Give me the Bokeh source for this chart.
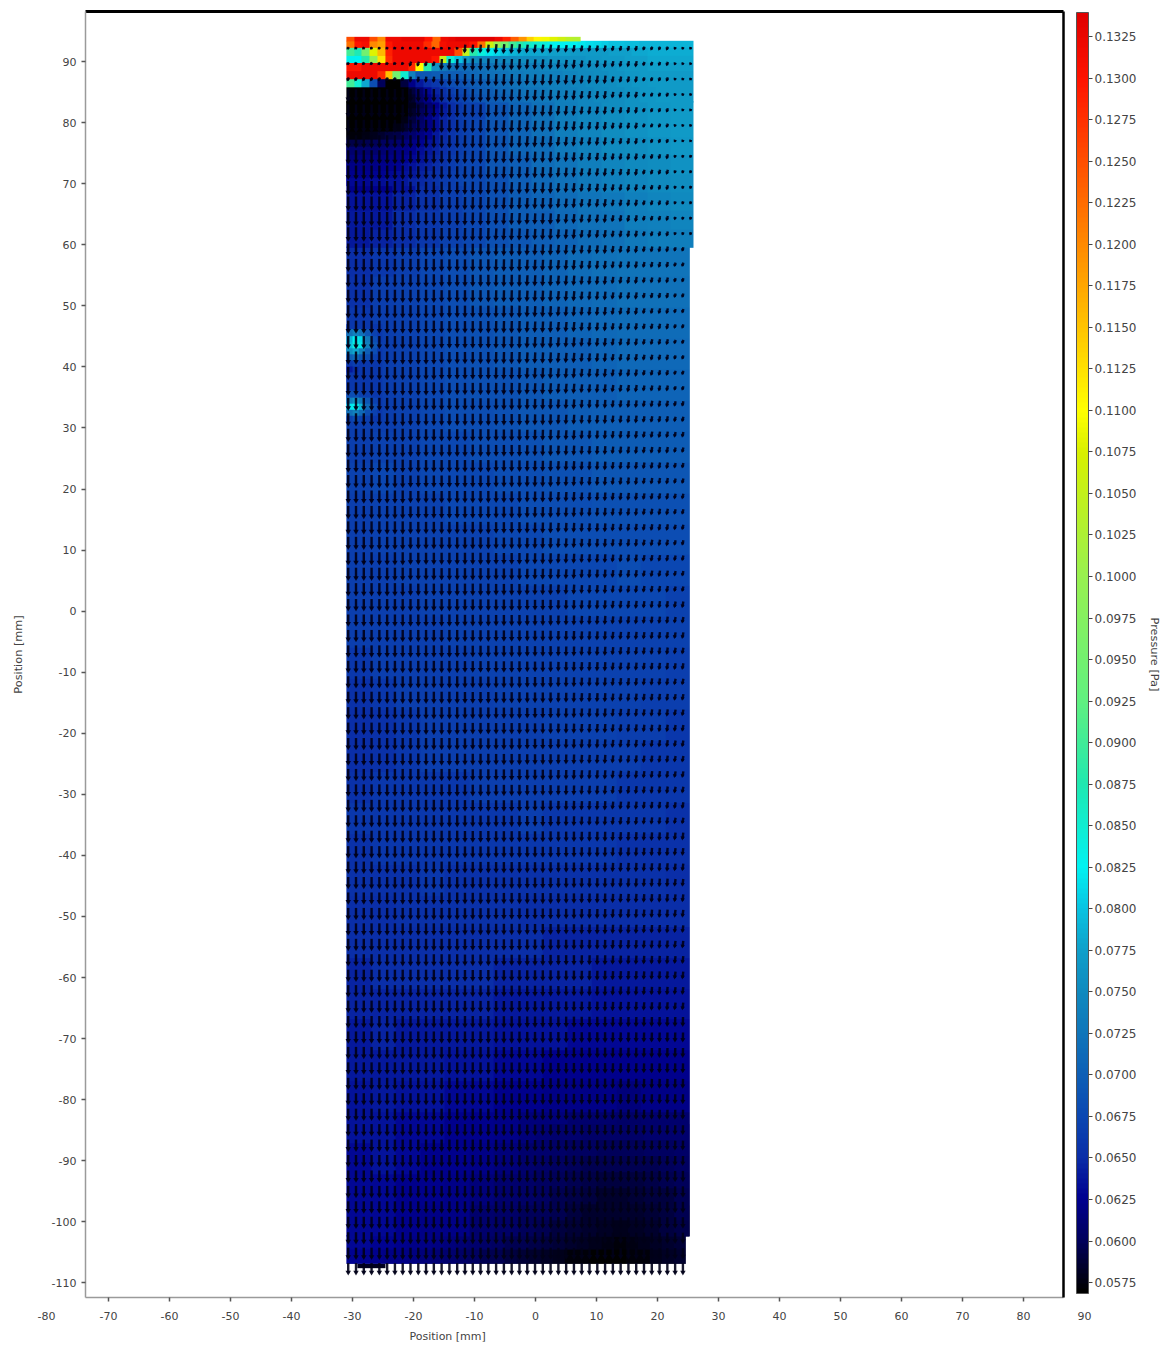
import numpy as np
from bokeh.plotting import figure
from bokeh.models import (Range1d, FixedTicker, LinearColorMapper, ColorBar, LinearAxis, NumeralTickFormatter)
from bokeh.embed import file_html
from bokeh.resources import INLINE

# ---------- axes ----------
x_ticks = list(range(-70, 90, 10))
y_ticks = list(range(-110, 100, 10))
cbar_ticks = [round(0.0575 + 0.0025 * i, 4) for i in range(31)]
pressure_min, pressure_max = 0.05684, 0.13395

# ---------- colour map stops (value, colour) ----------
stop_values = [0.05684, 0.0600, 0.0625, 0.0650, 0.0675, 0.0700, 0.0725, 0.0750, 0.0775, 0.0800, 0.0825,
               0.0875, 0.0925, 0.1000, 0.1075, 0.1100, 0.1150, 0.1200, 0.1250, 0.1300, 0.13395]
stop_colors = ["#000000", "#00005e", "#000090", "#0a2ea8", "#0b48b2", "#0e60b6", "#1076ba", "#108abf", "#10a0ca",
               "#08c4e2", "#00f2f2", "#20e8b0", "#60f080", "#98f050", "#d8f000", "#ffff00", "#ffc400", "#ff8a00",
               "#ff5000", "#ff1400", "#e00000"]

# ---------- pressure, in 0.0001 Pa ----------
strip_pressure = [1250,1320,1320,1250,1200,1320,1320,1330,1330,1330,1300,1230,1320,1330,1340,1340,1340,1340,1340,
                  1320,1290,1240,1190,1140,1110,1090,1080,1060,1040,1030]

top_pressure = [
 [1220,1300,1310,1200,1180,1300,1320,1320,1320,1320,1280,1230,1310,1320,1320,1320,1300,1220,1060,1000,950,900,880,860,850,840,830,825,825,825,820,815,810,805,800,800,795,795,790,790,790,790,790,790,790],
 [900,870,950,1080,1160,1290,1320,1320,1320,1320,1320,1320,1320,1320,1250,1050,880,840,820,810,800,790,785,780,780,780,775,775,775,770,770,770,770,770,775,775,775,780,780,785,785,785,785,785,785],
 [830,825,880,990,1120,1280,1320,1320,1320,1320,1320,1300,1050,850,800,770,750,745,745,745,750,750,755,755,755,755,760,760,760,760,760,765,765,770,770,770,775,775,775,780,780,780,780,780,780],
 [1300,1300,1320,1320,1320,1320,1320,1320,1280,1100,880,760,730,720,715,715,715,720,725,730,730,735,735,740,740,745,745,745,750,750,750,755,755,760,760,765,770,770,770,775,775,775,775,775,775],
 [1320,1320,1320,1320,1280,1150,950,850,740,690,690,695,700,700,700,705,710,715,720,720,725,730,730,735,735,740,740,740,745,745,750,750,755,755,760,760,765,765,770,770,770,770,770,770,770],
 [900,850,780,680,600,570,570,590,620,640,650,660,670,680,685,690,695,700,705,710,715,720,725,730,730,735,735,740,740,745,745,750,750,755,755,760,760,765,765,770,770,770,770,770,770],
 [570,570,570,570,570,570,570,570,590,610,630,645,655,665,675,680,690,695,700,705,710,715,720,725,725,730,735,735,740,740,745,745,750,750,755,755,760,760,765,765,770,770,770,770,770],
 [570,570,570,570,570,570,570,570,585,605,625,640,650,660,670,675,685,690,695,700,705,710,715,720,725,730,730,735,740,740,745,745,750,750,755,755,760,760,765,765,770,770,770,770,770],
]

mid_pressure = [
 [570,570,575,620,650,670,690,705,720,735,745,755,760,765,770],
 [570,570,590,630,655,675,690,705,720,735,745,755,760,765,770],
 [600,600,615,640,660,675,690,705,715,730,740,750,755,760,765],
 [615,615,630,645,660,675,690,700,715,725,735,745,750,755,760],
 [625,625,635,650,665,675,685,700,710,720,730,740,745,750,755],
 [635,635,645,655,665,675,685,695,705,715,725,730,740,745,750],
 [640,640,650,660,665,675,685,695,700,710,720,725,735,740,745],
 [640,645,650,660,670,675,685,690,700,705,715,720,730,735,735],
]

mid_left_pressure = [
 [570,570,570,570,570,570,570,570,580,595,610,625,640,650,660,668],
 [570,570,570,570,570,570,570,570,585,600,615,630,642,652,662,670],
 [570,570,570,570,570,570,570,575,590,605,620,632,644,654,663,670],
 [570,570,570,570,570,570,575,585,598,610,622,634,645,655,663,670],
 [572,572,575,580,585,590,595,603,610,618,628,638,648,656,664,670],
 [595,595,597,600,603,606,610,615,620,627,635,642,650,658,665,672],
 [608,608,608,610,612,614,617,620,625,632,638,645,652,660,667,673],
 [615,615,615,617,618,620,622,626,630,636,642,648,655,662,668,674],
 [620,620,620,622,623,625,628,632,636,641,646,652,658,664,670,675],
 [625,625,625,627,628,630,633,636,640,645,650,655,660,666,671,676],
 [630,630,630,632,633,635,637,640,644,648,652,657,662,667,672,677],
]

main_pressure = [
 [650,660,665,675,680,690,695,700,705,715,720,725,725,725],
 [655,665,670,675,680,690,695,700,705,710,715,720,720,720],
 [660,665,670,675,680,685,690,695,700,705,710,715,715,715],
 [660,665,670,675,680,685,690,695,700,700,705,710,710,710],
 [660,665,670,675,680,685,685,690,695,700,700,705,705,705],
 [665,665,670,675,680,680,685,690,690,695,700,700,700,700],
 [665,670,670,675,675,680,680,685,690,690,695,695,695,695],
 [670,675,670,675,675,675,680,680,685,685,690,690,690,690],
 [665,670,670,670,675,675,675,680,680,680,685,685,685,685],
 [665,670,670,670,670,670,675,675,680,680,680,680,680,680],
 [665,665,670,670,670,670,670,675,675,675,675,680,675,675],
 [665,665,665,670,670,670,670,670,670,675,675,675,675,670],
 [665,665,665,665,670,670,670,670,670,670,670,670,670,670],
 [660,665,665,665,665,670,670,670,670,670,670,670,670,665],
 [655,660,665,665,665,665,670,670,670,670,670,670,665,665],
 [650,655,660,665,665,665,665,665,670,670,670,665,665,660],
 [650,655,660,665,665,665,665,665,665,665,665,665,660,660],
 [655,660,660,660,660,665,665,665,665,665,665,660,660,660],
 [660,660,660,660,660,660,660,665,660,660,660,660,660,655],
 [655,660,660,660,660,660,660,660,660,660,660,655,655,655],
 [655,655,655,660,655,655,655,655,655,655,655,655,655,650],
 [650,650,655,655,655,655,655,650,650,650,650,650,650,650],
 [650,650,650,650,650,650,650,650,645,645,645,645,645,645],
 [645,650,650,650,650,650,645,645,645,645,640,640,640,640],
 [645,645,645,645,645,645,640,640,640,640,635,635,635,635],
 [640,645,640,640,640,640,635,635,635,630,630,630,630,630],
 [640,640,640,640,635,635,630,630,625,625,625,625,625,625],
 [635,640,635,635,630,630,625,625,620,620,620,615,620,620],
 [635,635,630,630,625,625,620,615,615,610,610,605,610,610],
 [630,635,630,625,625,620,615,610,605,600,600,595,600,605],
 [630,630,625,625,620,615,610,605,600,595,590,590,590,600],
 [630,630,625,620,620,610,605,600,595,590,585,585,585,590],
]

bottom_right_pressure = [
 [612,610,608,606,606,606,606,608,608,610],
 [610,606,604,602,600,600,600,602,604,606],
 [606,604,600,598,596,596,596,598,600,604],
 [604,600,597,594,590,590,592,594,596,600],
 [602,598,594,590,586,586,588,590,592,598],
 [600,596,590,586,584,584,586,588,590,596],
 [598,592,588,584,582,580,582,584,590,594],
]

bottom_pressure = [
 [630,630,628,628,625,622,620,618,616,612,610,606,602,598,596,594,592,588,586,582,578,576,574,576,578,582,584,588],
 [626,626,624,622,620,618,616,612,610,606,602,598,596,592,588,584,582,578,574,572,570,570,570,572,574,578,582,586],
]

spot_pressure = [
 [660,660,660,660,660,660],
 [720,740,720,690,670,660],
 [790,825,810,730,680,660],
 [800,840,820,740,690,665],
 [760,780,740,700,680,660],
 [700,710,690,680,670,660],
 [660,665,660,660,660,660],
 [640,650,660,660,660,660],
 [660,660,660,660,660,660],
 [660,660,660,660,660,660],
 [660,660,660,660,660,660],
 [680,680,670,665,660,660],
 [740,760,730,690,670,660],
 [820,830,790,710,680,660],
 [720,740,710,680,670,660],
 [670,680,670,665,660,660],
]

# ---------- arrows: lengths and sideways lean read by band, in mm ----------
band_first_row = [0, 1, 2, 3, 7, 13, 23, 36, 51, 63, 73, 79]
arrow_length = [
 [.33,.33,.33,.33,1.15,1.3,1.15,1.0,.85,.7,.5,.33],
 [.33,.33,.65,1.5,1.65,1.5,1.35,1.2,1.0,.8,.55,.33],
 [.5,.5,.8,1.65,1.65,1.65,1.5,1.3,1.1,.85,.55,.33],
 [1.8,1.8,1.8,1.8,1.8,1.65,1.5,1.3,1.1,.85,.55,.33],
 [2.0,2.0,1.8,1.8,1.8,1.65,1.5,1.3,1.1,.9,.65,.4],
 [1.8,1.8,1.8,1.65,1.65,1.65,1.5,1.35,1.15,.95,.75,.55],
 [1.8,1.8,1.65,1.65,1.65,1.55,1.45,1.3,1.15,1.0,.85,.7],
 [1.65,1.65,1.65,1.65,1.55,1.5,1.4,1.3,1.2,1.05,.95,.85],
 [1.65,1.65,1.65,1.65,1.55,1.5,1.45,1.35,1.3,1.2,1.1,1.0],
 [1.65,1.65,1.65,1.65,1.65,1.6,1.5,1.45,1.4,1.35,1.3,1.3],
 [1.65,1.65,1.65,1.65,1.65,1.65,1.65,1.6,1.55,1.5,1.5,1.5],
 [1.65,1.65,1.65,1.65,1.65,1.65,1.65,1.65,1.65,1.65,1.65,1.65],
]
arrow_lean = [
 [-.2,-.2,-.2,-.15,-.1,-.12,-.15,-.15,-.15,-.15,-.15,-.12],
 [-.25,-.25,-.2,-.08,-.04,-.08,-.12,-.15,-.15,-.15,-.15,-.12],
 [-.2,-.2,-.08,0,-.04,-.08,-.12,-.15,-.15,-.15,-.15,-.12],
 [0,0,0,0,-.04,-.08,-.12,-.15,-.15,-.15,-.15,-.12],
 [0,0,0,0,-.04,-.08,-.08,-.12,-.15,-.15,-.15,-.12],
 [0,0,0,0,0,-.04,-.08,-.12,-.12,-.15,-.15,-.15],
 [0,0,0,0,0,0,-.04,-.08,-.08,-.12,-.15,-.15],
 [0,0,0,0,0,0,0,-.04,-.08,-.12,-.12,-.15],
 [0,0,0,0,0,0,0,0,-.04,-.08,-.08,-.12],
 [0,0,0,0,0,0,0,0,0,-.04,-.04,-.04],
 [0,0,0,0,0,0,0,0,0,0,0,0],
 [0,0,0,0,0,0,0,0,0,0,0,0],
]
arrow_col_x0, arrow_col_dx, arrow_cols = -30.7, 1.276, 45
arrow_row_y0, arrow_row_dy, arrow_rows = 92.2, 2.529, 80

# ---------- palette ----------
def hex2rgb(h):
    return [int(h[i:i + 2], 16) for i in (1, 3, 5)]
rgb = np.array([hex2rgb(c) for c in stop_colors], float)
lv = np.linspace(pressure_min, pressure_max, 256)
palette = ["#%02x%02x%02x" % tuple(int(round(np.interp(v, stop_values, rgb[:, k]))) for k in range(3)) for v in lv]
mapper = LinearColorMapper(palette=palette, low=pressure_min, high=pressure_max)

# ---------- figure ----------
p = figure(width=1165, height=1345, output_backend="svg", toolbar_location=None,
           x_range=Range1d(-73.77, 86.56), y_range=Range1d(-112.4, 98.2),
           min_border_left=85, min_border_right=102, min_border_top=11, min_border_bottom=48,
           background_fill_color="white", border_fill_color="white", outline_line_color=None)
p.grid.visible = False
TXT = dict(major_label_text_font="DejaVu Sans", major_label_text_font_size="11px", major_label_text_color="#444444")
for ax, ticks, standoff in ((p.xaxis[0], x_ticks, 10), (p.yaxis[0], y_ticks, 5)):
    ax.ticker = FixedTicker(ticks=ticks)
    ax.axis_line_color = "#9a9a9a"
    ax.axis_line_width = 1.5
    ax.major_tick_line_color = "#555555"
    ax.major_tick_line_width = 1.5
    ax.major_tick_in = 0
    ax.major_tick_out = 4
    ax.minor_tick_line_color = None
    ax.major_label_standoff = standoff
    ax.major_label_overrides = {t: str(t) for t in ticks}
    for k, v in TXT.items():
        setattr(ax, k, v)

p.yaxis[0].axis_label = "Position [mm]"
p.yaxis[0].axis_label_text_font = "DejaVu Sans"
p.yaxis[0].axis_label_text_font_size = "11.3px"
p.yaxis[0].axis_label_text_font_style = "normal"
p.yaxis[0].axis_label_text_color = "#444444"
p.yaxis[0].axis_label_standoff = 24

top_axis = LinearAxis(ticker=FixedTicker(ticks=[]), axis_line_color="black", axis_line_width=3,
                      major_tick_line_color=None, minor_tick_line_color=None, major_label_text_font_size="0px")
p.add_layout(top_axis, "above")
right_axis = LinearAxis(ticker=FixedTicker(ticks=[]), axis_line_color="black", axis_line_width=2.5,
                        major_tick_line_color=None, minor_tick_line_color=None, major_label_text_font_size="0px",
                        axis_label="Pressure [Pa]", axis_label_text_font="DejaVu Sans", axis_label_text_font_size="11.3px",
                        axis_label_text_font_style="normal", axis_label_text_color="#444444", axis_label_standoff=84)
p.add_layout(right_axis, "right")

def field(table, x0, x1, y0, y1):
    arr = np.array(table, float)[::-1] * 1e-4
    p.image(image=[arr], x=x0, y=y0, dw=x1 - x0, dh=y1 - y0, color_mapper=mapper)

field(bottom_pressure, -31.0, 24.65, -106.9, -102.2)
field(main_pressure, -31.0, 25.3, -102.4, 59.7)
field(bottom_right_pressure, 0.0, 25.2, -102.4, -84.0)
field(mid_pressure, -31.0, 25.9, 59.5, 83.5)
field(mid_left_pressure, -31.0, -10.84, 69.6, 83.5)
field(top_pressure, -31.0, 25.9, 83.3, 93.4)
field([strip_pressure], -31.0, 7.4, 93.3, 94.05)
field(spot_pressure, -31.0, -25.1, 31.0, 47.0)

# dark bar under the bottom edge
p.quad(left=[-29.2], right=[-24.6], bottom=[-107.6], top=[-106.9], fill_color="#000020", line_color=None)

# arrows
xs0, xs1, ys0, ys1, hx, hy, ang, sz = [], [], [], [], [], [], [], []
for r in range(arrow_rows):
    y = arrow_row_y0 - r * arrow_row_dy
    band = max(i for i, s in enumerate(band_first_row) if s <= r)
    n = arrow_cols if y > 59.5 else arrow_cols - 1
    for c in range(n):
        x = arrow_col_x0 + c * arrow_col_dx
        cb_i = min(11, c * 12 // arrow_cols)
        L, d = arrow_length[band][cb_i], arrow_lean[band][cb_i]
        xs0.append(x - d / 2); ys0.append(y + L / 2)
        xs1.append(x + d / 2); ys1.append(y - L / 2)
        hx.append(x + d / 2); hy.append(y - L / 2 + 0.15)
        ang.append(-np.arctan2(-d, L))
        sz.append(min(5.5, 2.5 + L * 2.0))
p.segment(xs0, ys0, xs1, ys1, line_color="#000018", line_width=2.4, line_alpha=0.9)
p.scatter(hx, hy, marker="inverted_triangle", size=sz, angle=ang, fill_color="#000018", line_color=None, fill_alpha=0.9)

# colour bar
cb = ColorBar(color_mapper=mapper, ticker=FixedTicker(ticks=cbar_ticks), width=12, height=1281,
              location=(991, 4), padding=0, margin=0,
              background_fill_color=None, border_line_color=None,
              bar_line_color="#555555", bar_line_width=1,
              major_tick_line_color="#444444", major_tick_in=0, major_tick_out=4,
              minor_tick_line_color=None, major_label_text_font="DejaVu Sans",
              major_label_text_font_size="12px", major_label_text_color="#444444",
              label_standoff=2, formatter=NumeralTickFormatter(format="0.0000"))
p.add_layout(cb)

# texts beyond the frame: the two outermost x labels and the off-centre bottom title
def outer_text(text, left_px, up_px):
    p.add_layout(ColorBar(color_mapper=mapper, ticker=FixedTicker(ticks=[]), width=20, height=1, scale_alpha=0,
                          orientation="horizontal",
                          location=(left_px, up_px), padding=0, margin=0, title=text, title_standoff=0,
                          title_text_font="DejaVu Sans", title_text_font_size="11px", title_text_font_style="normal",
                          title_text_color="#444444", background_fill_color=None, border_line_color=None,
                          bar_line_color=None, major_tick_line_color=None, minor_tick_line_color=None,
                          major_label_text_font_size="0px"))

outer_text("-80", -48, -23)
outer_text("90", 992, -23)
outer_text("Position [mm]", 324, -46)

open("out.html", "w").write(file_html(p, INLINE))
